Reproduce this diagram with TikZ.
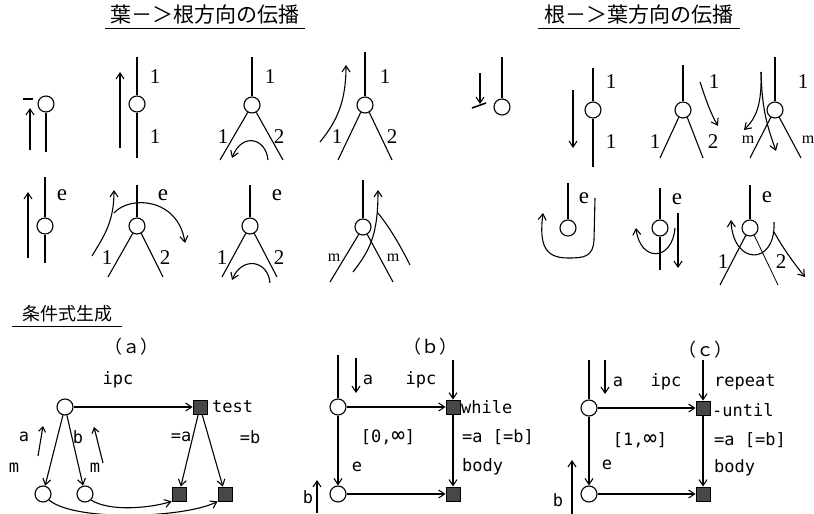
\documentclass[tikz,border=0pt]{standalone}
\usepackage{fontspec}
\setmainfont{Liberation Serif}
\newfontfamily\jp{Noto Sans CJK JP}
\newfontfamily\mono{DejaVu Sans Mono}
\usetikzlibrary{arrows.meta}
\tikzset{
  ln/.style={line width=1.1pt},
  nd/.style={circle, draw, line width=1.1pt, minimum size=16pt, inner sep=0pt},
  sq/.style={rectangle, fill=black!72, draw=black, line width=0.8pt, minimum size=14pt, inner sep=0pt},
  arr/.style={line width=1.1pt, -{Straight Barb[length=6pt,width=8pt]}},
  sarr/.style={line width=1.1pt, -{Straight Barb[length=5pt,width=7pt]}},
  dig/.style={font=\fontsize{21}{21}\selectfont, inner sep=0pt},
  ee/.style={font=\fontsize{23}{23}\selectfont, inner sep=0pt},
  mm/.style={font=\fontsize{16}{16}\selectfont, inner sep=0pt},
  tt/.style={font=\mono\fontsize{17}{17}\selectfont, inner sep=0pt},
  ttl/.style={tt, anchor=west},
  ttitle/.style={font=\jp\fontsize{21}{21}\selectfont, inner sep=0pt},
  par/.style={font=\jp\fontsize{18}{18}\selectfont, inner sep=0pt}
}
\newcommand{\infsym}{{\fontsize{22}{17}\selectfont ∞}}
\begin{document}
\begin{tikzpicture}[x=1pt,y=-1pt]
\useasboundingbox[fill=white] (0,0) rectangle (814,514);

% titles
\node[ttitle] (t1) at (205,15) {葉－＞根方向の伝播};
\draw[line width=1pt] (105,28) -- (305,28);
\node[ttitle] (t2) at (639,15) {根－＞葉方向の伝播};
\draw[line width=1pt] (538,28) -- (740,28);

% ===== leaf -> root, row 1 =====
\node[nd] (c1) at (46,104) {};
\draw[ln] (c1.south) -- (46,152);
\draw[arr] (30,150) -- (30,108);
\draw[line width=1.6pt] (23,99) -- (33,99);

\node[nd] (c2) at (137,104) {};
\draw[ln] (137,57) -- (c2.north);
\draw[ln] (c2.south) -- (137,158);
\draw[arr] (120,148) -- (120,72);
\node[dig] (l21) at (155,77) {1};
\node[dig] (l22) at (155,137) {1};

\node[nd] (c3) at (252,105) {};
\draw[ln] (252,57) -- (c3.north);
\draw[ln] (c3.240) -- (220,160);
\draw[ln] (c3.300) -- (283,160);
\node[dig] (l31) at (270,77) {1};
\node[dig] (l32) at (223,137) {1};
\node[dig] (l33) at (279,137) {2};
\draw[arr] (268,160) .. controls (266,138) and (242,132) .. (232,158);

\node[nd] (c4) at (365,105) {};
\draw[ln] (365,52) -- (c4.north);
\draw[ln] (c4.240) -- (338,160);
\draw[ln] (c4.300) -- (392,160);
\node[dig] (l41) at (385,77) {1};
\node[dig] (l42) at (337,137) {1};
\node[dig] (l43) at (392,137) {2};
\draw[arr] (320,142) .. controls (338,120) and (346,100) .. (346,65);

% ===== leaf -> root, row 2 =====
\node[nd] (c5) at (45,226) {};
\draw[ln] (45,177) -- (c5.north);
\draw[ln] (c5.south) -- (45,263);
\draw[arr] (28,258) -- (28,192);
\node[ee] (l51) at (62,195) {e};

\node[nd] (c6) at (137,226) {};
\draw[ln] (137,185) -- (c6.north);
\draw[ln] (c6.240) -- (108,277);
\draw[ln] (c6.300) -- (163,277);
\node[ee] (l61) at (163,195) {e};
\node[dig] (l62) at (107,258) {1};
\node[dig] (l63) at (165,258) {2};
\draw[arr] (92,256) .. controls (104,236) and (114,222) .. (114,190);
\draw[arr] (114,213) .. controls (130,195) and (178,198) .. (185,243);

\node[nd] (c7) at (250,226) {};
\draw[ln] (250,185) -- (c7.north);
\draw[ln] (c7.240) -- (222,277);
\draw[ln] (c7.300) -- (277,277);
\node[ee] (l71) at (277,195) {e};
\node[dig] (l72) at (222,258) {1};
\node[dig] (l73) at (279,258) {2};
\draw[arr] (270,283) .. controls (268,260) and (242,256) .. (232,280);

\node[nd] (c8) at (363,227) {};
\draw[ln] (363,180) -- (c8.north);
\draw[ln] (c8.240) -- (330,282);
\draw[ln] (c8.300) -- (393,282);
\node[mm] (l81) at (334,258) {m};
\node[mm] (l82) at (393,258) {m};
\draw[arr] (353,272) .. controls (370,250) and (378,235) .. (378,190);
\draw[ln] (378,213) .. controls (390,228) and (400,245) .. (410,265);

% ===== root -> leaf, row 1 =====
\node[nd] (r1) at (502,107) {};
\draw[ln] (502,57) -- (r1.north);
\draw[arr] (480,73) -- (480,104);
\draw[line width=1.6pt] (472,108) -- (486,103);

\node[nd] (r2) at (593,110) {};
\draw[ln] (593,68) -- (r2.north);
\draw[ln] (r2.south) -- (593,167);
\draw[arr] (573,90) -- (573,148);
\node[dig] (m21) at (611,82) {1};
\node[dig] (m22) at (611,142) {1};

\node[nd] (r3) at (683,110) {};
\draw[ln] (683,65) -- (r3.north);
\draw[ln] (r3.240) -- (660,158);
\draw[ln] (r3.300) -- (703,158);
\node[dig] (m31) at (714,82) {1};
\node[dig] (m32) at (655,142) {1};
\node[dig] (m33) at (713,142) {2};
\draw[arr] (700,82) .. controls (706,100) and (710,112) .. (718,126);

\node[nd] (r4) at (775,110) {};
\draw[ln] (775,57) -- (r4.north);
\draw[ln] (r4.240) -- (750,158);
\draw[ln] (r4.300) -- (801,158);
\node[dig] (m41) at (803,82) {1};
\node[mm] (m42) at (748,140) {m};
\node[mm] (m43) at (808,140) {m};
\draw[arr] (761,72) .. controls (762,105) and (756,118) .. (744,130);
\draw[arr] (761,72) .. controls (762,112) and (768,128) .. (776,151);

% ===== root -> leaf, row 2 =====
\node[nd] (r5) at (568,228) {};
\draw[ln] (568,183) -- (r5.north);
\node[ee] (m51) at (584,198) {e};
\draw[arr] (595,198) -- (594,240) .. controls (593,257) and (584,258) .. (568,258) .. controls (545,258) and (539,245) .. (543,213);

\node[nd] (r6) at (660,228) {};
\draw[ln] (660,188) -- (r6.north);
\draw[ln] (r6.south) -- (660,270);
\node[ee] (m61) at (677,199) {e};
\draw[arr] (678,213) -- (678,268);
\draw[arr] (675,228) .. controls (672,262) and (640,262) .. (636,228);

\node[nd] (r7) at (750,228) {};
\draw[ln] (750,185) -- (r7.north);
\draw[ln] (r7.240) -- (720,285);
\draw[line width=0.8pt] (r7.300) -- (778,285);
\node[ee] (m71) at (767,197) {e};
\node[dig] (m72) at (723,262) {1};
\node[dig] (m73) at (781,262) {2};
\draw[arr] (774,222) .. controls (776,266) and (733,266) .. (731,220);
\draw[arr] (774,232) .. controls (783,248) and (793,262) .. (805,277);

% ===== conditional generation =====
\node[font=\jp\fontsize{18}{18}\selectfont, inner sep=0pt] (t3) at (67,314) {条件式生成};
\draw[line width=1pt] (12,326) -- (122,326);

% (a)
\node[par] (pa) at (131,347) {（ａ）};
\node[tt] (ipa) at (118,380) {ipc};
\node[nd] (a0) at (65,407) {};
\node[sq] (at) at (200,407) {};
\node[ttl] (test) at (212,407) {test};
\draw[arr] (a0) -- (at);
\node[nd] (a1) at (43,494) {};
\node[nd] (a2) at (85,494) {};
\node[sq] (a3) at (179,494) {};
\node[sq] (a4) at (225,494) {};
\draw[arr] (a0) -- (a1);
\draw[arr] (a0) -- (a2);
\draw[arr] (at) -- (a3);
\draw[arr] (at) -- (a4);
\node[tt] (la) at (24,437) {a};
\node[tt] (lb) at (78,437) {b};
\node[tt] (lm1) at (14,468) {m};
\node[tt] (lm2) at (95,468) {m};
\node[tt] (lea) at (181,437) {=a};
\node[tt] (leb) at (250,437) {=b};
\draw[sarr] (38,456) -- (43,426);
\draw[sarr] (103,463) -- (94,427);
\draw[arr] (a1.south east) .. controls (75,522) and (185,518) .. (a4.south west);
\draw[arr] (a2.south east) .. controls (110,512) and (150,508) .. (a3.south west);

% (b)
\node[par] (pb) at (430,347) {（ｂ）};
\node[nd] (b0) at (338,407) {};
\node[sq] (b1) at (453,407) {};
\node[nd] (b2) at (338,494) {};
\node[sq] (b3) at (453,494) {};
\coordinate (bt0) at (338,355);
\coordinate (bt1) at (453,360);
\draw[ln] (bt0) -- (b0);
\draw[arr] (bt1) -- (b1);
\draw[arr] (b0) -- (b1);
\draw[arr] (b0) -- (b2);
\draw[arr] (b1) -- (b3);
\draw[arr] (b2) -- (b3);
\draw[arr] (356,358) -- (356,393);
\node[tt] (bla) at (368,380) {a};
\node[tt] (bipc) at (421,380) {ipc};
\node[ttl] (bwh) at (461,407) {while};
\node[tt] (brng) at (388,437) {[0,\infsym]};
\node[ttl] (beq) at (462,437) {=a [=b]};
\node[tt] (be) at (357,467) {e};
\node[ttl] (bbody) at (462,467) {body};
\node[tt] (bb) at (308,497) {b};
\draw[arr] (317,513) -- (317,480);

% (c)
\node[par] (pc) at (705,350) {（ｃ）};
\node[nd] (d0) at (589,408) {};
\node[sq] (d1) at (703,408) {};
\node[nd] (d2) at (589,494) {};
\node[sq] (d3) at (703,494) {};
\coordinate (dt0) at (589,360);
\coordinate (dt1) at (703,360);
\draw[ln] (dt0) -- (d0);
\draw[arr] (dt1) -- (d1);
\draw[arr] (d0) -- (d1);
\draw[arr] (d0) -- (d2);
\draw[arr] (d1) -- (d3);
\draw[arr] (d2) -- (d3);
\draw[arr] (605,360) -- (605,394);
\node[tt] (dla) at (618,382) {a};
\node[tt] (dipc) at (666,382) {ipc};
\node[ttl] (drep) at (714,382) {repeat};
\node[ttl] (dunt) at (712,410) {-until};
\node[tt] (drng) at (640,440) {[1,\infsym]};
\node[ttl] (deq) at (714,440) {=a [=b]};
\node[tt] (de) at (607,465) {e};
\node[ttl] (dbody) at (714,468) {body};
\node[tt] (db) at (558,500) {b};
\draw[arr] (572,514) -- (572,460);
\end{tikzpicture}
\end{document}
